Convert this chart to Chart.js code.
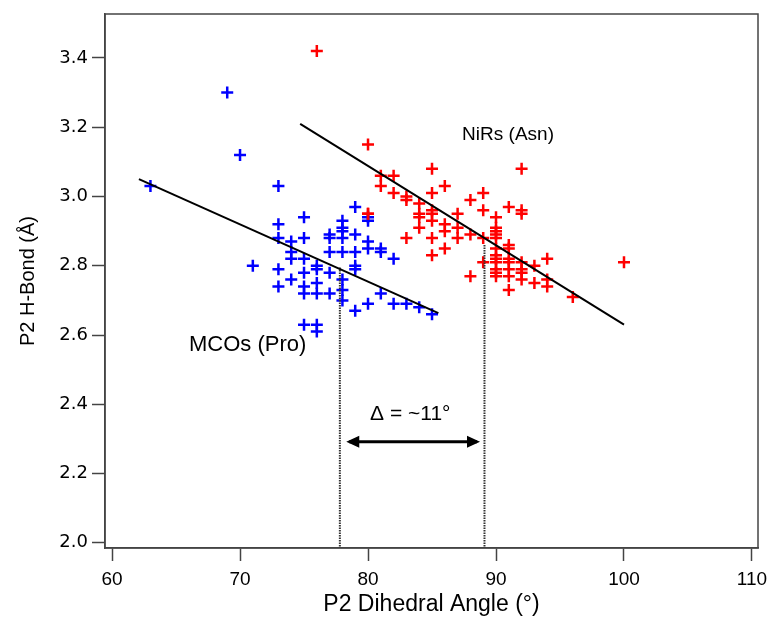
<!DOCTYPE html>
<html>
<head>
<meta charset="utf-8">
<script src="https://cdn.jsdelivr.net/npm/chart.js@4.4.1/dist/chart.umd.min.js"></script>
<style>
  body { margin: 0; background: #fff; }
  #chart { display: block; }
</style>
</head>
<body>
<canvas id="chart" width="772" height="618"></canvas>
<script>
// MCOs (Pro) - blue crosses
const mcoAngle = [63, 69, 70, 71, 73, 73, 73, 73, 73, 74, 74, 74, 74, 75, 75, 75, 75, 75, 75, 75,
    76, 76, 76, 76, 76, 76, 77, 77, 77, 77, 77, 78, 78, 78, 78, 78, 78, 78, 78,
    79, 79, 79, 79, 79, 79, 80, 80, 80, 80, 80, 81, 81, 81, 82, 82, 83, 84, 85];
const mcoBond = [3.03, 3.30, 3.12, 2.80, 3.03, 2.92, 2.88, 2.79, 2.74, 2.87, 2.84, 2.82, 2.76,
    2.94, 2.88, 2.82, 2.78, 2.74, 2.72, 2.63, 2.80, 2.79, 2.75, 2.72, 2.63, 2.61,
    2.89, 2.88, 2.84, 2.78, 2.72, 2.93, 2.91, 2.90, 2.88, 2.84, 2.76, 2.73, 2.70,
    2.97, 2.89, 2.84, 2.80, 2.79, 2.67, 2.94, 2.93, 2.87, 2.85, 2.69, 2.85, 2.84, 2.72,
    2.82, 2.69, 2.69, 2.68, 2.66];

// NiRs (Asn) - red crosses
const nirAngle = [76, 80, 80, 80, 81, 81, 82, 82, 83, 83, 83, 84, 84, 84, 84,
    85, 85, 85, 85, 85, 85, 85, 86, 86, 86, 86, 87, 87, 87, 88, 88, 88, 89, 89, 89, 89,
    90, 90, 90, 90, 90, 90, 90, 90, 90, 90, 90, 90, 91, 91, 91, 91, 91, 91, 91, 91,
    92, 92, 92, 92, 92, 92, 92, 93, 93, 94, 94, 94, 96, 100];
const nirBond = [3.42, 3.15, 2.95, 2.95, 3.06, 3.03, 3.06, 3.01, 3.00, 2.99, 2.88, 2.98, 2.95, 2.94, 2.91,
    3.08, 3.01, 2.96, 2.95, 2.93, 2.88, 2.83, 3.03, 2.92, 2.90, 2.85, 2.95, 2.91, 2.88,
    2.99, 2.89, 2.77, 3.01, 2.96, 2.88, 2.81,
    2.94, 2.91, 2.90, 2.89, 2.88, 2.85, 2.83, 2.82, 2.81, 2.79, 2.78, 2.77,
    2.97, 2.86, 2.85, 2.82, 2.81, 2.79, 2.77, 2.73,
    3.08, 2.96, 2.95, 2.81, 2.79, 2.78, 2.76, 2.80, 2.75, 2.82, 2.76, 2.74, 2.71, 2.81];

// linear fits (end points)
const mcoFitX = [62.1, 85.5];
const mcoFitY = [3.05, 2.663];
const nirFitX = [74.7, 100];
const nirFitY = [3.21, 2.63];

// dotted guides and the delta arrow
const guideX = [77.8, 89.1];
const guideTopY = [2.795, 2.86];
const arrowX = [78.3, 88.75];
const arrowY = 2.292;

// axes
const xTicks = [60, 70, 80, 90, 100, 110];
const yTicks = [2.0, 2.2, 2.4, 2.6, 2.8, 3.0, 3.2, 3.4];
const xMin = 59.45, xMax = 110.47;
const yMin = 1.985, yMax = 3.527;

const pts = (xs, ys) => xs.map((x, i) => ({ x: x, y: ys[i] }));

const labels = [
    { text: 'NiRs (Asn)', x: 90.94, y: 3.178, size: 19 },
    { text: 'MCOs (Pro)', x: 70.6, y: 2.571, size: 22 },
    { text: 'Δ = ~11°', x: 83.3, y: 2.372, size: 21 }
];

const extras = {
    id: 'extras',
    afterDatasetsDraw(chart) {
        const ctx = chart.ctx;
        const xs = chart.scales.x, ys = chart.scales.y;
        const a = chart.chartArea;
        ctx.save();
        // frame
        ctx.strokeStyle = '#444';
        ctx.lineWidth = 1.5;
        ctx.strokeRect(a.left, a.top, a.right - a.left, a.bottom - a.top);
        // arrow heads
        const py = ys.getPixelForValue(arrowY);
        const l = xs.getPixelForValue(arrowX[0]);
        const r = xs.getPixelForValue(arrowX[1]);
        ctx.fillStyle = '#000';
        ctx.beginPath();
        ctx.moveTo(l, py); ctx.lineTo(l + 13, py - 6); ctx.lineTo(l + 13, py + 6); ctx.closePath();
        ctx.moveTo(r, py); ctx.lineTo(r - 13, py - 6); ctx.lineTo(r - 13, py + 6); ctx.closePath();
        ctx.fill();
        // text labels
        ctx.textAlign = 'center';
        ctx.textBaseline = 'middle';
        labels.forEach(lb => {
            ctx.font = lb.size + 'px "Liberation Sans", Arial, sans-serif';
            ctx.fillText(lb.text, xs.getPixelForValue(lb.x), ys.getPixelForValue(lb.y));
        });
        ctx.restore();
    }
};

const guide = (i) => ({
    data: [{ x: guideX[i], y: guideTopY[i] }, { x: guideX[i], y: yMin }],
    showLine: true, borderColor: '#333', borderWidth: 2, borderDash: [1.5, 1], pointRadius: 0
});

const ctx = document.getElementById('chart').getContext('2d');
new Chart(ctx, {
    type: 'scatter',
    data: {
        datasets: [{
            data: pts(mcoFitX, mcoFitY),
            showLine: true, borderColor: '#000', borderWidth: 2, pointRadius: 0
        }, {
            data: pts(nirFitX, nirFitY),
            showLine: true, borderColor: '#000', borderWidth: 2, pointRadius: 0
        }, {
            data: [{ x: arrowX[0] + 3 / 12.8, y: arrowY }, { x: arrowX[1] - 3 / 12.8, y: arrowY }],
            showLine: true, borderColor: '#000', borderWidth: 3, pointRadius: 0
        },
        guide(0),
        guide(1),
        {
            label: 'NiRs (Asn)',
            data: pts(nirAngle, nirBond),
            pointStyle: 'cross', pointRadius: 6, borderColor: '#ff0000', borderWidth: 2.5
        }, {
            label: 'MCOs (Pro)',
            data: pts(mcoAngle, mcoBond),
            pointStyle: 'cross', pointRadius: 6, borderColor: '#0000ff', borderWidth: 2.5
        }]
    },
    options: {
        responsive: false,
        animation: false,
        devicePixelRatio: 1,
        layout: { padding: { top: 14, right: 14, left: 0, bottom: 0 } },
        plugins: { legend: { display: false }, tooltip: { enabled: false } },
        scales: {
            x: {
                type: 'linear', min: xMin, max: xMax,
                afterBuildTicks: s => { s.ticks = xTicks.map(v => ({ value: v })); },
                afterFit: s => { s.height = 70; s.paddingLeft = 0; s.paddingRight = 0; },
                grid: { drawOnChartArea: false, drawTicks: true, tickLength: 13, tickColor: '#444', tickWidth: 1.5 },
                border: { display: true, color: '#444', width: 1.5 },
                ticks: { color: '#000', padding: 7, font: { family: '"Liberation Sans", Arial, sans-serif', size: 19 } },
                title: {
                    display: true, text: 'P2 Dihedral Angle (°)', color: '#000',
                    font: { family: '"Liberation Sans", Arial, sans-serif', size: 23, lineHeight: 1.2 },
                    padding: { top: 0, bottom: 0 }
                }
            },
            y: {
                type: 'linear', min: yMin, max: yMax,
                afterBuildTicks: s => { s.ticks = yTicks.map(v => ({ value: v })); },
                afterFit: s => { s.width = 105; s.paddingTop = 0; s.paddingBottom = 0; },
                grid: { drawOnChartArea: false, drawTicks: true, tickLength: 13, tickColor: '#444', tickWidth: 1.5 },
                border: { display: true, color: '#444', width: 1.5 },
                ticks: {
                    color: '#000', padding: 4,
                    font: { family: '"DejaVu Sans", Verdana, sans-serif', size: 18 },
                    callback: v => Number(v).toFixed(1)
                },
                title: {
                    display: true, text: 'P2 H-Bond (Å)', color: '#000',
                    font: { family: '"Liberation Sans", Arial, sans-serif', size: 20, lineHeight: 1.2 },
                    padding: { top: 16, bottom: 0 }
                }
            }
        }
    },
    plugins: [extras]
});
</script>
</body>
</html>
